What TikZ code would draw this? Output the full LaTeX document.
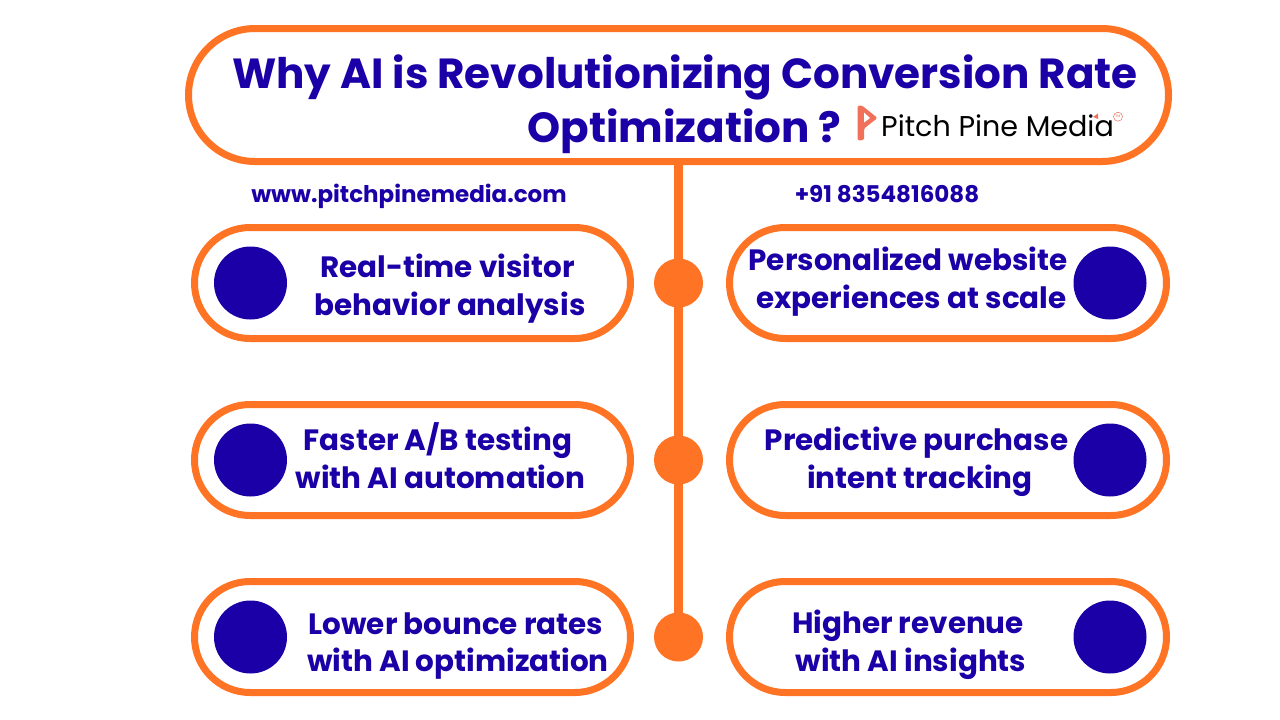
\documentclass[tikz,border=0pt]{standalone}
\usepackage{fontspec}
\setmainfont{Poppins}[BoldFont=* Bold]
\newfontfamily\logofont{Poppins}
\definecolor{ppblue}{HTML}{1A00A6}
\definecolor{pporange}{HTML}{FF7424}
\definecolor{ppsalmon}{HTML}{F0705A}
\tikzset{
  pill/.style={draw=pporange,line width=7pt,fill=white,rounded rectangle,minimum width=#1,minimum height=111pt,inner sep=0pt,outer sep=0pt},
  bluedot/.style={circle,fill=ppblue,minimum size=73pt,inner sep=0pt},
  hubdot/.style={circle,fill=pporange,minimum size=49pt,inner sep=0pt},
  itemtext/.style={font=\fontsize{29.4}{37.8}\selectfont\bfseries,text=ppblue,align=center,inner sep=0pt},
  smalltext/.style={font=\fontsize{23}{28}\selectfont\bfseries,text=ppblue,inner sep=0pt},
  titletext/.style={font=\fontsize{42.1}{54}\selectfont\bfseries,text=ppblue,inner sep=0pt},
  spine/.style={draw=pporange,line width=9pt}
}
\usetikzlibrary{shapes.misc}
\begin{document}
\begin{tikzpicture}[x=1pt,y=-1pt]
\useasboundingbox[fill=white] (0,0) rectangle (1280,720);
% spine behind everything
\node[hubdot] (h1) at (678.5,283) {};
\node[hubdot] (h2) at (678.5,460) {};
\node[hubdot] (h3) at (678.5,637) {};
\coordinate (top) at (678.5,162);
\draw[spine] (top) -- (h1.center) -- (h2.center) -- (h3.center);
% header
\node[pill=980pt,minimum height=133pt] (head) at (678.5,95) {};
\node[titletext,anchor=base] (t1) at (685,88.5) {Why AI is Revolutionizing Conversion Rate};
\node[titletext,anchor=base] (t2) at (684.5,142) {Optimization ?};
% contact
\node[smalltext,anchor=base] (web) at (409,202) {www.pitchpinemedia.com};
\node[smalltext,anchor=base] (tel) at (887,202) {+91 8354816088};
% left pills
\node[pill=436pt] (l1) at (412.5,283) {};
\node[pill=436pt] (l2) at (412.5,460) {};
\node[pill=436pt] (l3) at (412.5,637) {};
% right pills
\node[pill=437pt] (r1) at (948,283) {};
\node[pill=437pt] (r2) at (948,460) {};
\node[pill=437pt] (r3) at (948,637) {};
\foreach \n/\y in {1/283,2/460,3/637}{
  \node[bluedot] (bl\n) at (250.5,\y) {};
  \node[bluedot] (br\n) at (1110,\y) {};
}
\node[itemtext] (tl1) at (450,288.5) {\hspace*{-5pt}Real-time visitor\\behavior analysis};
\node[itemtext] (tl2) at (440.5,456) {\hspace*{-5pt}Faster A/B testing\\with AI automation};
\node[itemtext] (tl3) at (458,646) {\hspace*{-4pt}Lower bounce rates\\with AI optimization};
\node[itemtext] (tr1) at (908,282) {Personalized website\\\hspace*{7pt}experiences at scale};
\node[itemtext] (tr2) at (916.5,461.5) {Predictive purchase\\\hspace*{7pt}intent tracking};
\node[itemtext] (tr3) at (910,645) {\hspace*{-4pt}Higher revenue\\\hspace*{2pt}with AI insights};
% logo
\fill[ppsalmon,rounded corners=1.5pt] (857.5,105.5) -- (862,105.5) -- (877.5,118) -- (864,128.5) -- (864,140) -- (857.5,140.5) -- cycle;
\fill[white] (864,112.5) -- (870,118) -- (864,122.5) -- cycle;
\node[anchor=base west,inner sep=0pt,font=\logofont\fontsize{28.6}{30}\selectfont,text=black] (logo) at (881,136) {Pitch Pine Media};
\fill[ppsalmon] (1093,117) -- (1098,113.5) -- (1098,119) -- cycle;
\draw[ppsalmon,line width=.5pt] (1118,116.7) circle (4.5pt);
\node[font=\fontsize{3.5}{4}\selectfont,text=ppsalmon,inner sep=0pt] (tm) at (1118,116.7) {TM};
\end{tikzpicture}
\end{document}
